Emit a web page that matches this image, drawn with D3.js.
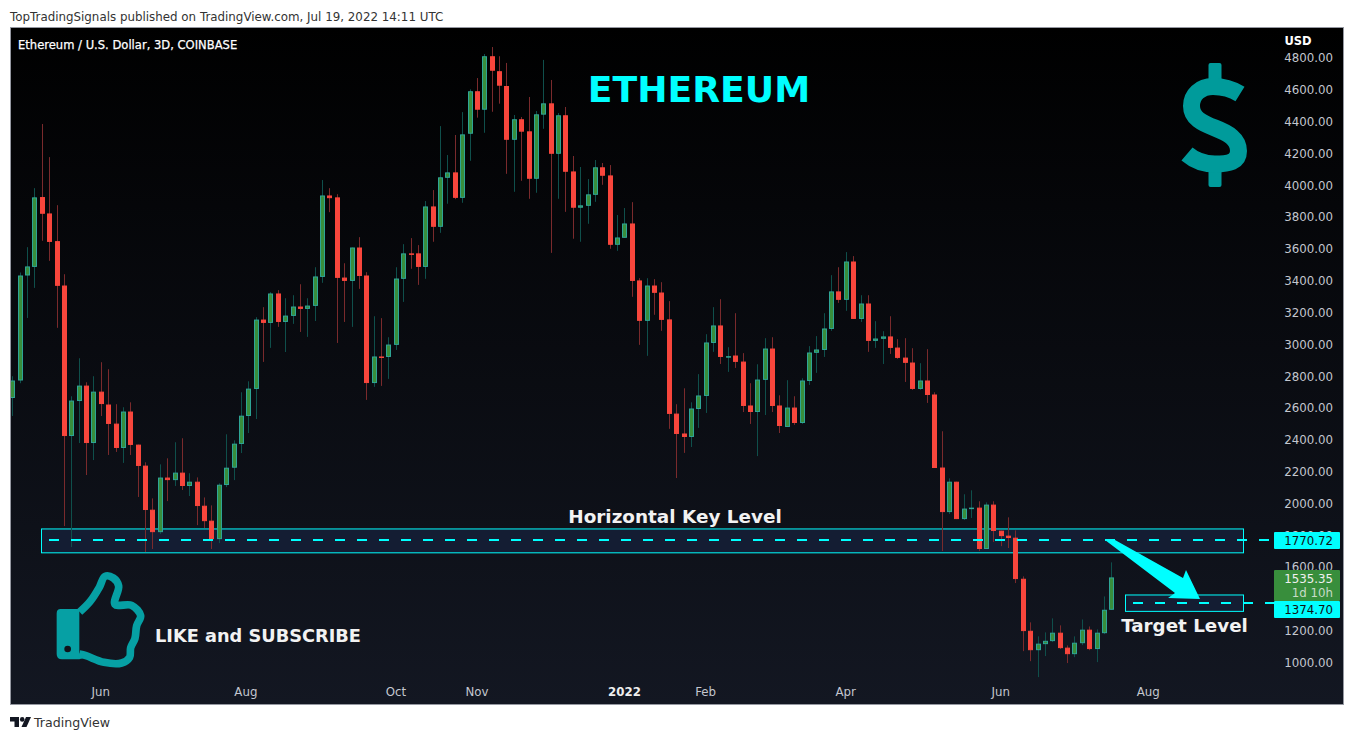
<!DOCTYPE html>
<html><head><meta charset="utf-8">
<script src="https://cdn.jsdelivr.net/npm/d3@7"></script>
<style>html,body{margin:0;padding:0;background:#fff;overflow:hidden}svg{display:block}text{font-family:"DejaVu Sans",sans-serif}</style>
</head><body><svg id="c" width="1354" height="740"></svg>
<script>
const opens=[2663,2773,3433,3487,3926,3823,3649,3370,2424,2644,2741,2380,2703,2622,2502,2349,2578,2370,2238,1961,1820,2163,2147,2194,2110,2137,1986,1892,1776,2116,2225,2374,2550,2720,3156,3135,3320,3141,3179,3238,3223,3242,3424,3936,3924,3420,3399,3609,3433,2757,2924,2921,2997,3412,3572,3572,3487,3867,3739,4047,4081,3921,4324,4591,4475,4811,4717,4624,4286,4415,4339,4041,4444,4515,4198,4440,4087,3859,3871,3940,4113,4062,3626,3670,3760,3402,3148,3370,3326,3157,2565,2440,2418,2594,2676,3009,3119,2921,2930,2892,2616,2575,2777,2974,2616,2481,2603,2506,2770,2947,2965,3097,3333,3280,3521,3160,3257,3022,3035,3050,2980,2917,2886,2720,2773,2685,2226,1946,2137,1902,1965,1974,1714,1993,1829,1798,1785,1527,1200,1078,1116,1135,1188,1094,1053,1122,1207,1085,1185,1332];
const closes=[2773,3433,3490,3924,3821,3644,3368,2424,2647,2741,2380,2703,2625,2500,2349,2578,2368,2236,1959,1820,2163,2147,2194,2110,2137,1984,1889,1776,2118,2225,2376,2552,2722,3156,3135,3320,3141,3181,3238,3223,3244,3427,3936,3919,3418,3399,3609,3430,2757,2924,2919,2999,3414,3572,3567,3487,3867,3739,4050,4081,3921,4320,4591,4475,4811,4720,4626,4286,4415,4337,4041,4446,4515,4198,4440,4085,3859,3874,3943,4113,4060,3626,3672,3760,3399,3148,3370,3324,3154,2563,2437,2418,2597,2679,3012,3119,2921,2926,2890,2613,2575,2779,2974,2613,2487,2603,2506,2773,2949,2968,3100,3333,3280,3521,3160,3257,3022,3037,3050,2978,2915,2884,2720,2773,2682,2223,1946,2137,1902,1968,1974,1714,1993,1827,1795,1783,1525,1198,1078,1119,1137,1188,1091,1053,1125,1207,1085,1188,1332,1535.35];
const highs=[2800,3452,3611,3982,4385,4177,3875,3441,2674,2913,2762,2800,2888,2844,2624,2605,2636,2370,2259,2032,2246,2284,2385,2410,2190,2164,2038,1988,2127,2435,2397,2699,2768,3171,3234,3328,3341,3290,3309,3378,3290,3485,4033,3982,3944,3510,3609,3674,3454,3177,3165,3045,3485,3630,3668,3624,3901,3970,4372,4190,4316,4460,4603,4674,4825,4869,4811,4769,4442,4429,4555,4467,4788,4662,4454,4492,4184,4115,4039,4159,4140,4127,3813,3857,3894,3416,3416,3410,3391,3272,2624,2724,2636,2813,3064,3234,3284,2982,3196,2945,2756,2875,3039,3045,2680,2775,2674,2787,2989,3052,3196,3435,3485,3580,3555,3309,3309,3146,3083,3177,3033,3039,2976,2882,2970,2699,2454,2158,2137,2058,2083,2014,2007,2014,1829,1913,1831,1542,1253,1165,1190,1278,1234,1108,1165,1271,1227,1209,1416,1630];
const lows=[2550,2756,3166,3355,3651,3525,3104,1858,1726,2380,2179,2273,2550,2305,2324,2255,2305,2041,1695,1714,1808,2015,2110,2085,2047,1864,1846,1714,1751,2103,2147,2317,2443,2531,2890,2978,3110,2952,3129,3078,3047,3147,3387,3831,3009,3141,3110,3349,2651,2733,2739,2783,2965,3267,3475,3374,3412,3645,3701,3884,3913,3890,4154,4425,4330,4462,4513,4072,3959,4028,3915,3953,4355,3575,3915,3833,3664,3645,3758,3896,4003,3601,3588,3670,3299,2997,2928,3186,3085,2469,2160,2318,2355,2475,2569,2953,2877,2827,2852,2575,2500,2298,2556,2575,2443,2481,2494,2500,2745,2821,2921,3085,3261,3211,3160,3141,2953,2978,2877,2940,2909,2764,2714,2714,2632,2223,1701,1934,1902,1896,1909,1701,1714,1758,1732,1720,1500,1072,1009,909,1041,1129,1085,997,1034,1110,1078,1003,1179,1332];
const startDate=new Date(Date.UTC(2021,3,27));
const endDate=new Date(Date.UTC(2022,6,18));
const priceTicks=[4800,4600,4400,4200,4000,3800,3600,3400,3200,3000,2800,2600,2400,2200,2000,1800,1600,1200,1000];
const timeTicks=[["Jun",Date.UTC(2021,5,2)],["Aug",Date.UTC(2021,6,31)],["Oct",Date.UTC(2021,8,30)],["Nov",Date.UTC(2021,10,2)],["2022",Date.UTC(2022,0,1)],["Feb",Date.UTC(2022,1,3)],["Apr",Date.UTC(2022,3,1)],["Jun",Date.UTC(2022,5,3)],["Aug",Date.UTC(2022,7,2)]];
const keyLevel=1770.72, targetLevel=1374.70, lastPrice=1535.35;

const y=d3.scaleLinear().domain([1000,4800]).range([662.6,58]);
const x=d3.scaleUtc().domain([startDate,endDate]).range([12.3,1111.3]);
const dates=d3.utcDay.range(startDate,new Date(+endDate+1),3);
const svg=d3.select("#c");
const CY="#00ffff",RED="#f8463c",GF="#388e3c",GB="#2ea596",RW="#7a2a2c",GW="#0f4f4b",AX="#c4c7cf";
const defs=svg.append("defs");
const g=defs.append("linearGradient").attr("id","bg").attr("x1",0).attr("x2",0).attr("y1",0).attr("y2",1);
g.append("stop").attr("offset",0).attr("stop-color","#000000");
g.append("stop").attr("offset",1).attr("stop-color","#131722");
defs.append("clipPath").attr("id","pane").append("rect").attr("x",11).attr("y",28).attr("width",1332).attr("height",676);

svg.append("rect").attr("x",10.5).attr("y",27.5).attr("width",1333).attr("height",677).attr("fill","url(#bg)").attr("stroke","#9598a1").attr("stroke-width",1);
svg.append("text").attr("x",10).attr("y",21).attr("font-size",11.87).attr("fill","#333").text("TopTradingSignals published on TradingView.com, Jul 19, 2022 14:11 UTC");

const pane=svg.append("g").attr("clip-path","url(#pane)");
// price axis
const axisG=pane.append("g");
axisG.selectAll("text").data(priceTicks).join("text").attr("x",1333).attr("y",d=>y(d)+4.3).attr("text-anchor","end").attr("font-size",11.8).attr("fill",AX).text(d=>d.toFixed(2));
axisG.append("text").attr("x",1284.5).attr("y",45).attr("font-size",11.5).attr("font-weight","bold").attr("fill","#fff").text("USD");
// time axis
pane.append("g").selectAll("text").data(timeTicks).join("text").attr("x",d=>x(d[1])).attr("y",696).attr("text-anchor","middle").attr("font-size",11.8)
  .attr("font-weight",d=>d[0]==="2022"?"bold":"normal").attr("fill",d=>d[0]==="2022"?"#eeeeee":AX).text(d=>d[0]);

pane.append("text").attr("x",18).attr("y",48.5).attr("font-size",11.55).attr("stroke","#fff").attr("stroke-width",0.25).attr("fill","#fff").text("Ethereum / U.S. Dollar, 3D, COINBASE");

// zones under the candles
const zone=pane.append("g");
zone.append("rect").attr("x",41.5).attr("width",1202).attr("y",y(1840)).attr("height",y(1690)-y(1840)).attr("fill","#141d33").attr("stroke",CY).attr("stroke-width",1);
zone.append("rect").attr("x",1125.5).attr("width",118).attr("y",y(1425)).attr("height",y(1322)-y(1425)).attr("fill","#141d33").attr("stroke",CY).attr("stroke-width",1);

// candles
const idx=d3.range(opens.length);
const px=i=>Math.round(x(dates[i]));
const bars=pane.append("g");
bars.selectAll("line").data(idx).join("line").attr("x1",i=>px(i)+.5).attr("x2",i=>px(i)+.5)
 .attr("y1",i=>y(highs[i])).attr("y2",i=>y(lows[i])).attr("stroke-width",1).attr("stroke",i=>closes[i]>=opens[i]?GW:RW);
bars.selectAll("rect").data(idx).join("rect").attr("x",i=>px(i)-1.5).attr("width",4)
 .attr("y",i=>Math.min(y(opens[i]),y(closes[i]))+.5).attr("height",i=>Math.max(.5,Math.abs(y(opens[i])-y(closes[i]))-1))
 .attr("fill",i=>closes[i]>=opens[i]?GF:RED).attr("stroke",i=>closes[i]>=opens[i]?GB:RED).attr("stroke-width",1);

// dashed levels
const lv=pane.append("g").attr("stroke",CY).attr("stroke-width",2).attr("stroke-dasharray","10 12").attr("fill","none");
lv.append("line").attr("x1",49).attr("x2",1274).attr("y1",y(keyLevel)).attr("y2",y(keyLevel));
lv.append("line").attr("x1",1133).attr("x2",1274).attr("y1",y(targetLevel)).attr("y2",y(targetLevel));

// arrow between levels
const ya=y(keyLevel),yb=y(targetLevel)-4;
pane.append("path").attr("fill",CY).attr("d",d3.line()([[1105,ya],[1115,ya],[1183,ya+38],[1186,ya+30],[1200,yb],[1168,yb-1],[1175,ya+53]])+"Z");

// right labels
const lab=pane.append("g");
lab.append("rect").attr("x",1274).attr("y",532).attr("width",66).attr("height",17).attr("rx",1).attr("fill",CY);
lab.append("text").attr("x",1333).attr("y",544.8).attr("text-anchor","end").attr("font-size",11.8).attr("fill","#111").text(keyLevel.toFixed(2));
lab.append("rect").attr("x",1274).attr("y",570).attr("width",66).attr("height",31).attr("rx",1).attr("fill",GF);
lab.append("text").attr("x",1333).attr("y",583).attr("text-anchor","end").attr("font-size",11.8).attr("fill","#f0f0f0").text(lastPrice.toFixed(2));
lab.append("text").attr("x",1333).attr("y",597).attr("text-anchor","end").attr("font-size",11.8).attr("fill","#c8dcc8").text("1d 10h");
lab.append("rect").attr("x",1274).attr("y",601).attr("width",66).attr("height",17).attr("rx",1).attr("fill",CY);
lab.append("text").attr("x",1333).attr("y",613.8).attr("text-anchor","end").attr("font-size",11.8).attr("fill","#111").text(targetLevel.toFixed(2));

// annotations
pane.append("text").attr("x",699).attr("y",101.5).attr("text-anchor","middle").attr("font-size",36.2).attr("font-weight","bold").attr("fill",CY).text("ETHEREUM");
pane.append("text").attr("x",675).attr("y",523).attr("text-anchor","middle").attr("font-size",18.4).attr("font-weight","bold").attr("fill","#f2f2f2").text("Horizontal Key Level");
pane.append("text").attr("x",1184.5).attr("y",632).attr("text-anchor","middle").attr("font-size",18.3).attr("font-weight","bold").attr("fill","#f2f2f2").text("Target Level");
pane.append("text").attr("x",155).attr("y",642).attr("font-size",17.75).attr("font-weight","bold").attr("fill","#f2f2f2").text("LIKE and SUBSCRIBE");

// dollar icon
const dollar=pane.append("g").attr("fill","#009b9b");
dollar.append("rect").attr("x",1208.5).attr("y",63).attr("width",13).attr("height",22).attr("rx",2);
dollar.append("rect").attr("x",1208.5).attr("y",165).attr("width",13).attr("height",22).attr("rx",2);
dollar.append("path").attr("fill","none").attr("stroke","#009b9b").attr("stroke-width",17)
 .attr("d","M1240,94 C1232,89 1224,86.5 1213,86.5 C1200,86.5 1191.5,95 1191.5,106 C1191.5,118 1202,123 1215,128 C1228,133 1238.5,139 1238.5,151 C1238.5,162 1229,164 1215,164 C1204,164 1194,160 1187,154");

// thumb icon
const hand=pane.append("g").attr("transform","translate(30,560) scale(0.3333)");
hand.append("path").attr("fill","#06a0a4").attr("d","M92,147 L148,147 L148,280 L170,290 L148,298 L96,298 Q80,298 80,282 L80,160 Q80,147 92,147 Z");
hand.append("circle").attr("cx",113).attr("cy",267).attr("r",10).attr("fill","#10131b");
hand.append("path").attr("fill","none").attr("stroke","#06a0a4").attr("stroke-width",23).attr("stroke-linejoin","round")
 .attr("d",d3.line().curve(d3.curveCatmullRom)([[149,156],[180,125],[208,82],[225,49],[250,54],[266,78],[255,133],[305,136],[332,167],[320,197],[315,235],[302,263],[299,292],[275,309],[222,307],[168,287],[148,282]]));

// footer
const fg=svg.append("g").attr("transform","translate(10,717)").attr("fill","#131722");
fg.append("path").attr("d","M0,0 H9 V10 H4.5 V4.5 H0 Z");
fg.append("circle").attr("cx",12.2).attr("cy",2.4).attr("r",2.3);
fg.append("path").attr("d","M16,0 H21 L16.5,10 H11.5 Z");
svg.append("text").attr("x",34).attr("y",727).attr("font-size",12.6).attr("fill","#333").text("TradingView");
</script></body></html>
